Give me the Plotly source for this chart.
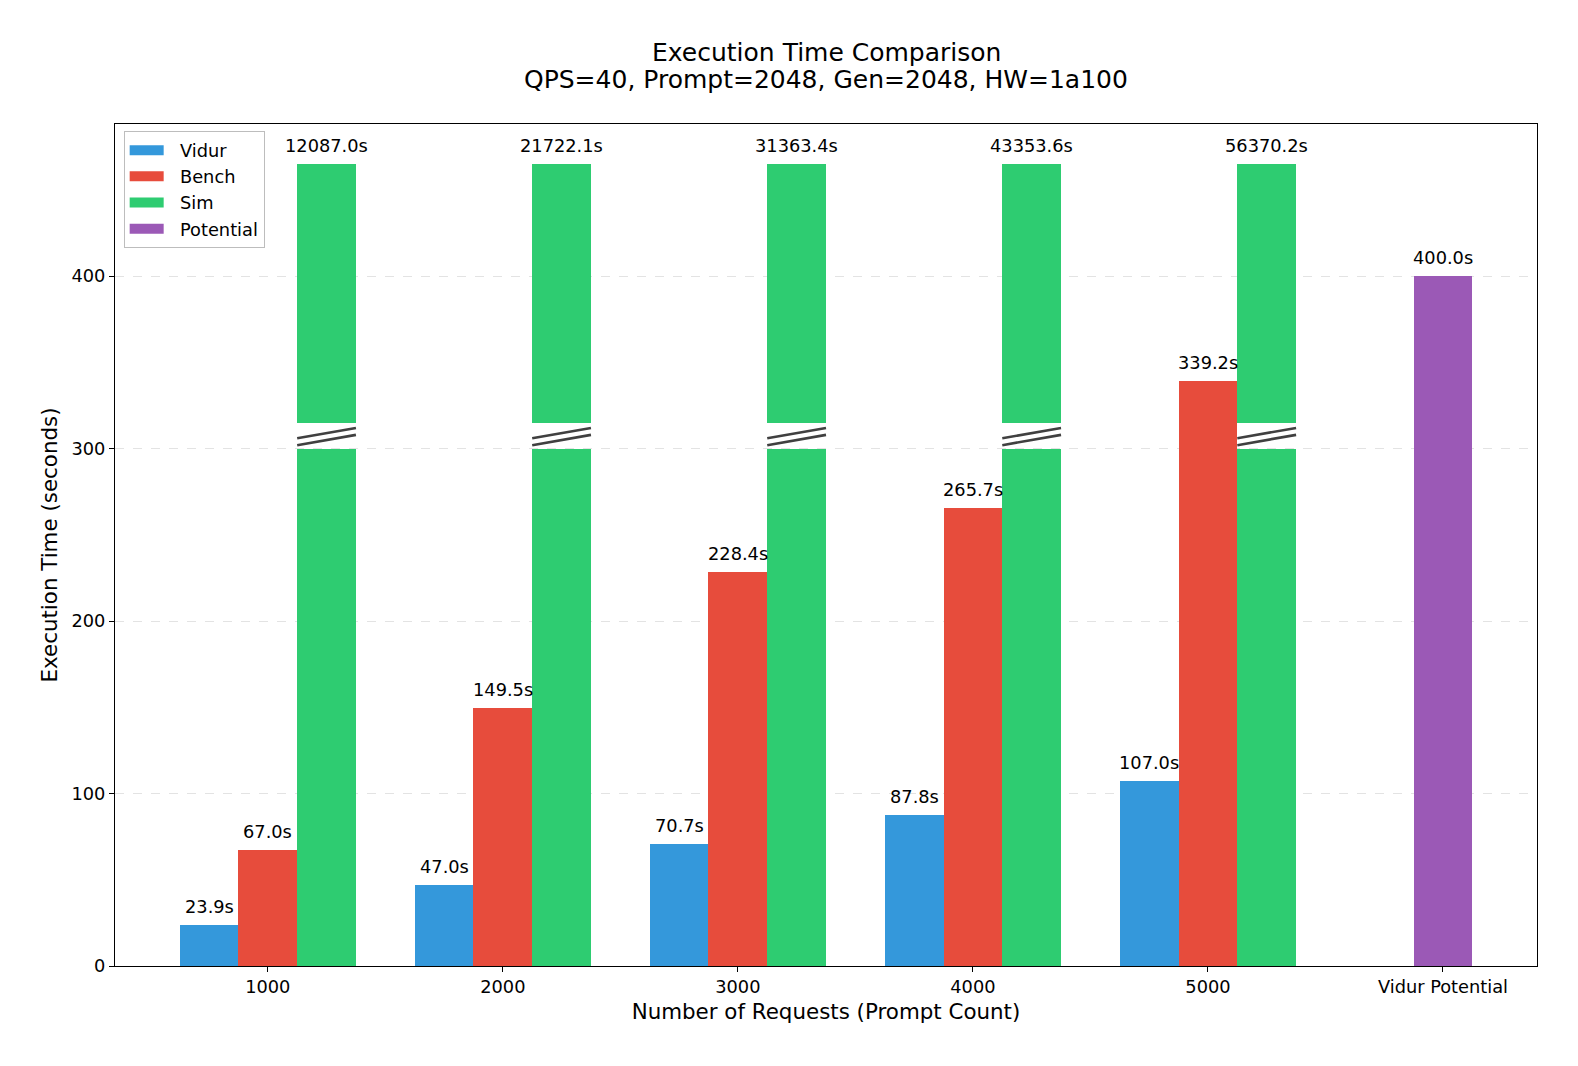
import numpy as np
import plotly.graph_objects as go

# ---- data ----
categories = ["1000", "2000", "3000", "4000", "5000"]
vidur = [23.9, 47.0, 70.7, 87.8, 107.0]
bench = [67.0, 149.5, 228.4, 265.7, 339.2]
sim = [12087.0, 21722.1, 31363.4, 43353.6, 56370.2]
potential_category = "Vidur Potential"
potential = [400.0]
y_ticks = [0, 100, 200, 300, 400]
title_lines = ["Execution Time Comparison", "QPS=40, Prompt=2048, Gen=2048, HW=1a100"]
legend_names = ["Vidur", "Bench", "Sim", "Potential"]

# ---- broken-axis display settings for the Sim bars ----
BREAK_LOW = 300
BREAK_HIGH = 315
DISPLAY_TOP = 465

COL_VIDUR = "#3498db"
COL_BENCH = "#e74c3c"
COL_SIM = "#2ecc71"
COL_POT = "#9b59b6"
legend_colors = [COL_VIDUR, COL_BENCH, COL_SIM, COL_POT]

W = 0.25
FONT = "DejaVu Sans"
FS = 17.8
FS_LABEL = 21.4
FS_TITLE = 25

WIDTH, HEIGHT = 1578, 1066
M_L, M_R, M_T, M_B = 115, 41, 124, 100
PLOT_H = HEIGHT - M_T - M_B

idx = np.arange(len(categories))
x_vidur = idx - W
x_bench = idx
x_sim = idx + W
x_pot = [len(categories)]

fig = go.Figure()

fig.add_trace(go.Bar(x=x_vidur, y=vidur, width=W, marker=dict(color=COL_VIDUR, line=dict(width=0)),
                     name="Vidur", showlegend=False, legendgroup="Vidur"))
fig.add_trace(go.Bar(x=x_bench, y=bench, width=W, marker=dict(color=COL_BENCH, line=dict(width=0)),
                     name="Bench", showlegend=False, legendgroup="Bench"))
# sim: lower segment and upper segment (broken bar)
fig.add_trace(go.Bar(x=x_sim, y=[BREAK_LOW] * len(sim), width=W, base=0,
                     marker=dict(color=COL_SIM, line=dict(width=0)),
                     name="Sim", showlegend=False, legendgroup="Sim",
                     customdata=sim, hovertemplate="%{customdata:.1f}s<extra>Sim</extra>"))
fig.add_trace(go.Bar(x=x_sim, y=[DISPLAY_TOP - BREAK_HIGH] * len(sim), width=W, base=BREAK_HIGH,
                     marker=dict(color=COL_SIM, line=dict(width=0)),
                     name="Sim", showlegend=False, legendgroup="Sim",
                     customdata=sim, hovertemplate="%{customdata:.1f}s<extra>Sim</extra>"))
fig.add_trace(go.Bar(x=x_pot, y=potential, width=W, marker=dict(color=COL_POT, line=dict(width=0)),
                     name="Potential", showlegend=False, legendgroup="Potential"))

# break marks across the sim bars
bx, by = [], []
for xc in x_sim:
    for lo in (BREAK_LOW + 2, BREAK_LOW + 6):
        bx += [xc - W / 2, xc + W / 2, None]
        by += [lo, lo + 6, None]
fig.add_trace(go.Scatter(x=bx, y=by, mode="lines", line=dict(color="#404040", width=2.6),
                         hoverinfo="skip", showlegend=False))

# legend entries (wide swatches)
for name, col in zip(legend_names, legend_colors):
    fig.add_trace(go.Scatter(x=[None], y=[None], mode="lines", line=dict(color=col, width=12),
                             name="\u00a0\u00a0" + name, legendgroup=name, showlegend=True))

# value labels
annotations = []
lab_font = dict(size=FS, color="black", family=FONT)
for xs, vals in [(x_vidur, vidur), (x_bench, bench)]:
    for xv, v in zip(xs, vals):
        annotations.append(dict(x=xv, y=v, text=f"{v:.1f}s", showarrow=False, yanchor="bottom",
                                yshift=6, font=lab_font))
for xv, v in zip(x_sim, sim):
    annotations.append(dict(x=xv, y=DISPLAY_TOP, text=f"{v:.1f}s", showarrow=False, yanchor="bottom",
                            yshift=6, font=lab_font))
for xv, v in zip(x_pot, potential):
    annotations.append(dict(x=xv, y=v, text=f"{v:.1f}s", showarrow=False, yanchor="bottom",
                            yshift=6, font=lab_font))

# two-line title
for line, py in zip(title_lines, [52.5, 79.5]):
    annotations.append(dict(text=line, xref="paper", yref="paper", x=0.5,
                            y=(HEIGHT - M_B - py) / PLOT_H, xanchor="center", yanchor="middle",
                            showarrow=False, font=dict(size=FS_TITLE, family=FONT, color="black")))

fig.update_layout(
    width=WIDTH, height=HEIGHT,
    margin=dict(l=M_L, r=M_R, t=M_T, b=M_B),
    paper_bgcolor="white", plot_bgcolor="white",
    font=dict(family=FONT, color="black", size=FS),
    barmode="overlay",
    bargap=0,
    legend=dict(x=0.0061, y=0.9915, xanchor="left", yanchor="top",
                bgcolor="white", bordercolor="#bdbdbd", borderwidth=1,
                font=dict(size=FS, family=FONT), itemwidth=34, tracegroupgap=0),
    annotations=annotations,
)

fig.update_xaxes(
    range=[-0.65, 5.4],
    tickmode="array", tickvals=list(range(len(categories) + 1)),
    ticktext=categories + [potential_category],
    showline=True, mirror=True, linecolor="black", linewidth=1.2,
    ticks="outside", ticklen=5, tickcolor="black", tickwidth=1.2,
    showgrid=False, zeroline=False,
    tickfont=dict(size=FS, family=FONT),
    title=dict(text="Number of Requests (Prompt Count)", font=dict(size=FS_LABEL, family=FONT), standoff=7),
)
fig.update_yaxes(
    range=[0, 488.25],
    tickmode="array", tickvals=y_ticks,
    showline=True, mirror=True, linecolor="black", linewidth=1.2,
    ticks="outside", ticklen=5, tickcolor="black", tickwidth=1.2,
    showgrid=True, gridcolor="#e3e3e3", griddash="dash", gridwidth=1,
    zeroline=False,
    tickfont=dict(size=FS, family=FONT),
    title=dict(text="Execution Time (seconds)", font=dict(size=FS_LABEL, family=FONT), standoff=7),
)

fig.write_html("out.html", config={"displayModeBar": False},
               post_script="document.body.style.margin='0';")
